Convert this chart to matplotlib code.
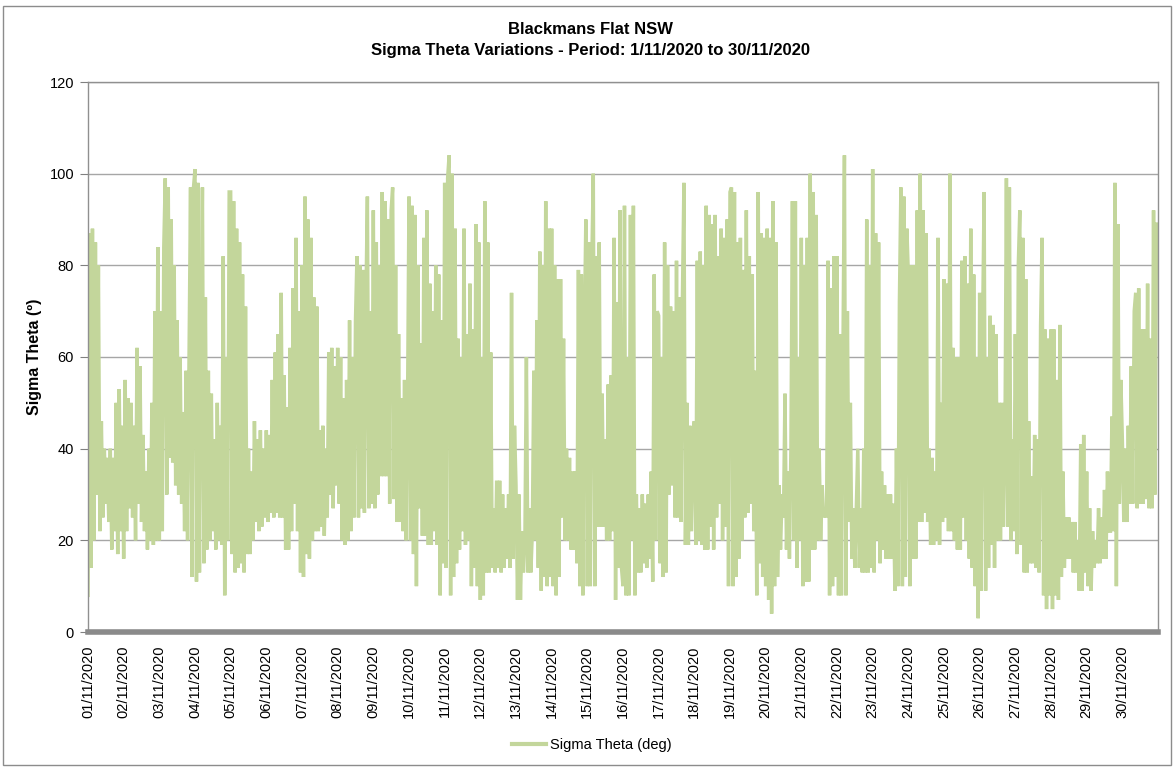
import matplotlib
matplotlib.use("Agg")
import matplotlib.dates as mdates
import matplotlib.pyplot as plt
import numpy as np
import pandas as pd
from matplotlib.lines import Line2D
from matplotlib.patches import Rectangle

# hourly sigma theta readings (deg), one list per day
nov01 = [8, 87, 14, 88, 20, 85, 30, 80, 22, 46, 25, 40, 28, 38, 24, 40, 18, 38, 22, 50, 17, 53, 22, 45]
nov02 = [16, 55, 22, 51, 27, 50, 25, 45, 20, 62, 28, 58, 24, 43, 22, 35, 18, 40, 20, 50, 19, 70, 20, 84]
nov03 = [20, 70, 22, 84, 99, 30, 97, 38, 90, 37, 80, 32, 68, 30, 60, 28, 48, 22, 57, 20, 60, 97, 12, 97]
nov04 = [101, 11, 98, 13, 60, 97, 15, 73, 18, 57, 20, 52, 22, 42, 18, 50, 20, 45, 19, 82, 8, 60, 20, 96]
nov05 = [96, 17, 94, 13, 88, 14, 85, 15, 78, 13, 71, 17, 40, 17, 35, 20, 46, 24, 42, 22, 44, 23, 40, 25]
nov06 = [44, 24, 43, 26, 55, 25, 61, 26, 65, 25, 74, 25, 56, 18, 49, 18, 62, 22, 75, 28, 86, 22, 70, 13]
nov07 = [80, 12, 95, 17, 90, 16, 86, 20, 73, 22, 71, 22, 44, 23, 45, 21, 40, 25, 61, 30, 62, 27, 58, 32]
nov08 = [62, 28, 60, 20, 51, 19, 55, 20, 68, 22, 60, 25, 68, 82, 25, 80, 27, 79, 26, 72, 95, 27, 70, 28]
nov09 = [92, 27, 85, 30, 80, 34, 96, 34, 94, 34, 90, 28, 92, 97, 29, 80, 24, 65, 24, 51, 22, 55, 20, 48]
nov10 = [95, 20, 93, 17, 91, 10, 80, 27, 63, 21, 86, 21, 92, 19, 76, 19, 70, 22, 80, 19, 78, 8, 68, 15]
nov11 = [98, 14, 99, 104, 8, 100, 12, 88, 15, 64, 18, 60, 22, 88, 19, 65, 20, 76, 10, 66, 14, 89, 10, 85]
nov12 = [7, 60, 8, 94, 13, 85, 13, 61, 14, 27, 13, 33, 14, 33, 13, 30, 14, 27, 16, 30, 14, 74, 16, 45]
nov13 = [32, 7, 30, 7, 22, 13, 20, 60, 13, 27, 13, 22, 57, 20, 68, 14, 83, 9, 80, 12, 94, 10, 88, 12]
nov14 = [88, 10, 80, 8, 77, 12, 77, 25, 64, 20, 40, 20, 38, 18, 35, 18, 35, 15, 79, 10, 78, 8, 65, 90]
nov15 = [10, 85, 10, 80, 100, 10, 82, 23, 85, 23, 52, 23, 42, 20, 54, 20, 56, 22, 86, 7, 72, 14, 92, 14]
nov16 = [10, 93, 8, 60, 8, 91, 20, 93, 8, 30, 13, 27, 13, 30, 15, 28, 14, 30, 16, 35, 11, 78, 20, 70]
nov17 = [69, 15, 60, 12, 85, 13, 80, 30, 71, 32, 70, 25, 81, 25, 73, 24, 73, 98, 19, 50, 19, 45, 22, 43]
nov18 = [46, 19, 81, 20, 83, 19, 80, 18, 93, 18, 91, 23, 89, 18, 91, 25, 82, 28, 88, 20, 86, 23, 90, 10]
nov19 = [96, 97, 10, 96, 12, 85, 16, 86, 20, 79, 25, 92, 26, 82, 28, 78, 22, 57, 8, 96, 15, 87, 12, 86]
nov20 = [10, 88, 7, 86, 4, 94, 10, 85, 12, 32, 18, 30, 25, 52, 18, 35, 16, 40, 94, 20, 94, 14, 60, 20]
nov21 = [86, 10, 80, 11, 86, 11, 100, 18, 96, 18, 91, 20, 40, 20, 32, 25, 27, 25, 81, 8, 75, 10, 82, 12]
nov22 = [82, 8, 65, 8, 60, 104, 8, 70, 24, 50, 16, 27, 14, 27, 40, 14, 27, 13, 40, 13, 90, 13, 80, 14]
nov23 = [101, 13, 87, 20, 85, 15, 35, 18, 32, 16, 30, 16, 30, 16, 28, 9, 40, 10, 72, 97, 10, 95, 12, 88]
nov24 = [78, 10, 80, 16, 80, 16, 92, 24, 100, 24, 92, 26, 87, 24, 40, 19, 38, 19, 35, 20, 86, 19, 50, 24]
nov25 = [77, 25, 76, 22, 100, 22, 62, 20, 60, 18, 60, 18, 81, 25, 82, 20, 76, 16, 88, 14, 78, 10, 60, 3]
nov26 = [74, 9, 67, 96, 9, 60, 14, 69, 19, 67, 14, 65, 20, 50, 20, 50, 23, 40, 99, 23, 97, 20, 42, 22]
nov27 = [65, 17, 80, 92, 19, 86, 13, 77, 13, 46, 15, 34, 15, 43, 14, 42, 13, 67, 86, 8, 66, 5, 64, 8]
nov28 = [66, 5, 66, 8, 55, 7, 67, 12, 35, 14, 25, 16, 25, 16, 24, 13, 24, 13, 20, 9, 41, 9, 43, 13]
nov29 = [35, 10, 27, 9, 22, 14, 20, 15, 27, 15, 25, 16, 31, 16, 35, 22, 22, 47, 22, 98, 10, 89, 28, 55]
nov30 = [42, 24, 40, 24, 45, 28, 58, 28, 70, 74, 27, 75, 28, 66, 28, 66, 29, 76, 27, 64, 27, 92, 30, 89]

days = [nov01, nov02, nov03, nov04, nov05, nov06, nov07, nov08, nov09, nov10,
        nov11, nov12, nov13, nov14, nov15, nov16, nov17, nov18, nov19, nov20,
        nov21, nov22, nov23, nov24, nov25, nov26, nov27, nov28, nov29, nov30]

sigma = np.concatenate(days)
times = pd.date_range("2020-11-01 00:00", periods=len(sigma), freq="h")
day_ticks = pd.date_range("2020-11-01", "2020-11-30", freq="D")

GREEN = "#c3d69b"
GRID = "#a6a6a6"

plt.rcParams["font.family"] = ["Liberation Sans", "DejaVu Sans"]

W, H = 1174, 767
fig = plt.figure(figsize=(W / 100, H / 100), dpi=100)
ax = fig.add_axes([88 / W, 1 - 632 / H, (1158 - 88) / W, (632 - 82) / H])

ax.plot(times, sigma, color=GREEN, lw=2.5, solid_joinstyle="miter")

ax.set_xlim(pd.Timestamp("2020-11-01"), pd.Timestamp("2020-12-01"))
ax.set_ylim(0, 120)
ax.set_yticks(range(0, 121, 20))
ax.yaxis.grid(True, color=GRID, lw=1)
ax.set_axisbelow(True)

ax.set_xticks(day_ticks)
ax.xaxis.set_major_formatter(mdates.DateFormatter("%d/%m/%Y"))
ax.tick_params(axis="x", length=0, pad=10, labelsize=10.5, rotation=90)
ax.tick_params(axis="y", length=6, color="#808080", labelsize=10.5, pad=4)

for side in ("left", "right", "top"):
    ax.spines[side].set_color("#909090")
    ax.spines[side].set_linewidth(1)
ax.spines["bottom"].set_color("#8a8a8a")
ax.spines["bottom"].set_linewidth(4)

ax.set_ylabel("Sigma Theta (º)", fontsize=11.5, fontweight="bold")
ax.yaxis.set_label_coords(-0.043, 0.5)

fig.text(0.503, 1 - 30 / H, "Blackmans Flat NSW", ha="center", va="center",
         fontsize=12, fontweight="bold")
fig.text(0.503, 1 - 50 / H, "Sigma Theta Variations - Period: 1/11/2020 to 30/11/2020",
         ha="center", va="center", fontsize=12, fontweight="bold")

handle = Line2D([], [], color=GREEN, lw=3)
fig.legend([handle], ["Sigma Theta (deg)"], loc="center",
           bbox_to_anchor=(592 / W, 1 - 745 / H), frameon=False,
           fontsize=10.5, handlelength=2.3, handletextpad=0.3)

fig.patches.append(Rectangle((3 / W, 2 / H), (W - 6) / W, (H - 8) / H,
                             transform=fig.transFigure, fill=False,
                             edgecolor="#8c8c8c", lw=1))

fig.savefig("out.png", dpi=100)
plt.close(fig)
